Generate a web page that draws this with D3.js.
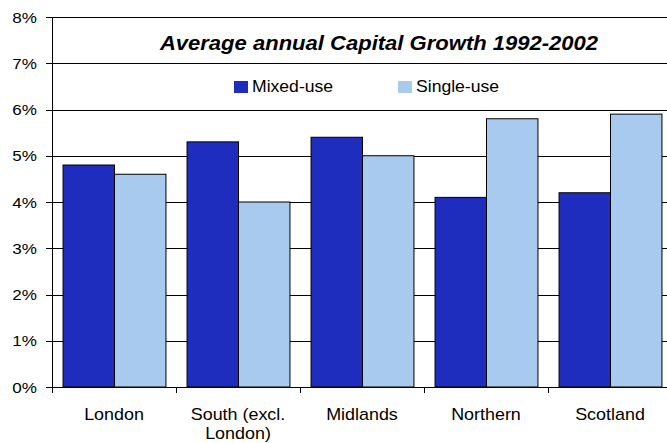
<!DOCTYPE html>
<html>
<head>
<meta charset="utf-8">
<script src="https://cdn.jsdelivr.net/npm/d3@7"></script>
<style>
  html, body { margin: 0; padding: 0; background: #fff; }
  svg { display: block; font-family: "Liberation Sans", Arial, sans-serif; }
</style>
</head>
<body>
<svg id="chart" width="667" height="443"></svg>
<script>
// Regional averages, % per year
const regions = ["London", "South (excl. London)", "Midlands", "Northern", "Scotland"];
const mixedUse = [4.8, 5.3, 5.4, 4.1, 4.2];
const singleUse = [4.6, 4.0, 5.0, 5.8, 5.9];
const seriesNames = ["Mixed-use", "Single-use"];
const seriesColors = ["#1f2dbf", "#a8caee"];
const yTicks = [0, 1, 2, 3, 4, 5, 6, 7, 8];
const titleText = "Average annual Capital Growth 1992-2002";

const svg = d3.select("#chart");
const margin = { left: 52, top: 17, right: -5, bottom: 56 };
const W = 667, H = 443;
const plotW = W - margin.left - margin.right;
const plotH = H - margin.top - margin.bottom;

// the text face is drawn slightly wide
function wideText(sel, x, y, str, size, anchor, sx) {
  return sel.append("g").attr("transform", `translate(${x},${y}) scale(${sx},1)`)
    .append("text").attr("text-anchor", anchor || "start")
    .attr("font-size", size).attr("fill", "#000").text(str);
}

const x0 = d3.scaleBand().domain(regions).range([0, plotW]).paddingInner(0.17).paddingOuter(0.085);
const x1 = d3.scaleBand().domain(seriesNames).range([0, x0.bandwidth()]);
const y = d3.scaleLinear().domain([0, 8]).range([plotH, 0]);

const g = svg.append("g").attr("transform", `translate(${margin.left},${margin.top})`);

// horizontal gridlines with outward tick stubs
g.append("g").selectAll("line").data(yTicks).join("line")
  .attr("x1", -6).attr("x2", plotW)
  .attr("y1", d => Math.round(y(d)) + 0.5).attr("y2", d => Math.round(y(d)) + 0.5)
  .attr("stroke", "#000").attr("stroke-width", 1);

// y tick labels
const yLab = g.append("g");
yTicks.forEach(d => {
  wideText(yLab, -15, y(d) + 5.5, d + "%", 15.5, "end", 1.1);
});

// bars
const rows = regions.map((r, i) => ({ region: r, values: [mixedUse[i], singleUse[i]] }));
const groups = g.append("g").selectAll("g").data(rows).join("g")
  .attr("transform", d => `translate(${x0(d.region)},0)`);
groups.selectAll("rect").data(d => d.values.map((v, j) => ({ key: seriesNames[j], v, j })))
  .join("rect")
  .attr("x", d => x1(d.key) + 0.5)
  .attr("y", d => y(d.v))
  .attr("width", x1.bandwidth())
  .attr("height", d => plotH - y(d.v))
  .attr("fill", d => seriesColors[d.j])
  .attr("stroke", "#000").attr("stroke-width", 1);

// axis lines
g.append("line").attr("x1", 0.5).attr("x2", 0.5).attr("y1", 0).attr("y2", plotH + 0.5)
  .attr("stroke", "#000");
g.append("line").attr("x1", 0).attr("x2", plotW).attr("y1", Math.round(plotH) + 0.5).attr("y2", Math.round(plotH) + 0.5)
  .attr("stroke", "#000");

// category boundary ticks
const bounds = d3.range(regions.length + 1).map(i => i * plotW / regions.length);
g.append("g").selectAll("line").data(bounds).join("line")
  .attr("x1", d => Math.round(d) + 0.5).attr("x2", d => Math.round(d) + 0.5)
  .attr("y1", Math.round(plotH)).attr("y2", Math.round(plotH) + 6)
  .attr("stroke", "#000");

// category labels (wrapped)
const catLabels = { "South (excl. London)": ["South (excl.", "London)"] };
const xLab = g.append("g");
regions.forEach(d => {
  const lines = catLabels[d] || [d];
  lines.forEach((l, i) => {
    wideText(xLab, x0(d) + x0.bandwidth() / 2, plotH + 33 + i * 18.5, l, 16, "middle", 1.12);
  });
});

// title
const title = wideText(svg, 379, 50, titleText, 19.5, "middle", 1.13);
title.attr("font-weight", "bold").attr("font-style", "italic");

// legend
const legendX = [234, 398];
seriesNames.forEach((name, i) => {
  svg.append("rect").attr("x", legendX[i]).attr("y", 81).attr("width", 14).attr("height", 12)
    .attr("fill", seriesColors[i]);
  wideText(svg, legendX[i] + 18, 92, name, 16, "start", 1.1);
});
</script>
</body>
</html>
